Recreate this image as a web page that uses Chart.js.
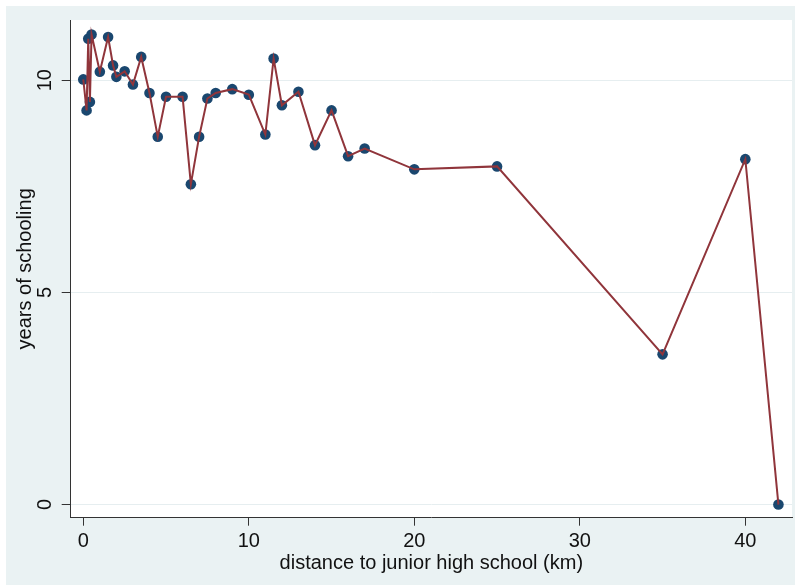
<!DOCTYPE html>
<html>
<head>
<meta charset="utf-8">
<script src="https://cdn.jsdelivr.net/npm/chart.js@4.4.1/dist/chart.umd.min.js"></script>
<style>
  html,body{margin:0;padding:0;background:#fff}
  #wrap{width:795px;height:585px}
</style>
</head>
<body>
<div id="wrap"><canvas id="c" width="795" height="585"></canvas></div>
<script>
// distance (km) vs mean years of schooling
const distance = [0, 0.2, 0.3, 0.4, 0.5, 1, 1.5, 1.8, 2, 2.5, 3, 3.5, 4, 4.5, 5, 6, 6.5, 7, 7.5, 8, 9, 10, 11, 11.5, 12, 13, 14, 15, 16, 17, 20, 25, 35, 40, 42];
const schooling = [10.02, 9.29, 10.98, 9.49, 11.08, 10.2, 11.02, 10.35, 10.08, 10.21, 9.9, 10.55, 9.7, 8.67, 9.61, 9.61, 7.55, 8.67, 9.57, 9.7, 9.79, 9.66, 8.72, 10.51, 9.41, 9.73, 8.47, 9.29, 8.21, 8.39, 7.9, 7.97, 3.54, 8.14, 0];
const xTicks = [0, 10, 20, 30, 40];
const yTicks = [0, 5, 10];

(function(){
  const ink = '#111', navy = '#1a476f', maroon = '#90353b';
  const outer = '#eaf2f3', grid = '#e6eef0';
  const font = { family: "'Liberation Sans', Arial, Helvetica, sans-serif", size: 20 };
  Chart.defaults.font.family = font.family;
  Chart.defaults.color = ink;

  const pts = distance.map((d, i) => ({ x: d, y: schooling[i] }));

  // stata-ish backgrounds: outer light bluish gray, white plot region
  const bg = {
    id: 'bg',
    beforeDraw(chart){
      const { ctx, width, height, chartArea: a } = chart;
      ctx.save();
      ctx.fillStyle = '#fff'; ctx.fillRect(0, 0, width, height);
      ctx.fillStyle = outer; ctx.fillRect(6, 6, width - 6, height - 6);
      ctx.fillStyle = '#fff'; ctx.fillRect(a.left, a.top, a.right - a.left, a.bottom - a.top);
      ctx.restore();
    }
  };

  new Chart(document.getElementById('c'), {
    type: 'line',
    data: {
      datasets: [
        { label: 'line', data: pts, order: 0, borderColor: maroon, borderWidth: 2,
          pointRadius: 0, pointHoverRadius: 0, fill: false, tension: 0 },
        { label: 'pts', type: 'scatter', data: pts, order: 1, showLine: false,
          pointRadius: 5.3, pointBackgroundColor: navy, pointBorderWidth: 0, pointHoverRadius: 5.3 }
      ]
    },
    options: {
      responsive: false, animation: false, devicePixelRatio: 1,
      layout: { autoPadding: false, padding: { left: 0, top: 20, right: 3, bottom: 0 } },
      plugins: { legend: { display: false }, tooltip: { enabled: false } },
      scales: {
        x: {
          type: 'linear', min: -0.76, max: 42.82,
          afterBuildTicks: s => { s.ticks = xTicks.map(v => ({ value: v })); },
          afterFit: s => { s.height = 67.3; },
          grid: { drawOnChartArea: false, tickLength: 8, tickColor: '#333', tickWidth: 1 },
          border: { color: '#333', width: 1 },
          ticks: { font, color: ink, padding: 4, maxRotation: 0 },
          title: { display: true, text: 'distance to junior high school (km)', font, color: ink,
                   padding: { top: 0, bottom: 10 } }
        },
        y: {
          type: 'linear', min: -0.31, max: 11.42,
          afterBuildTicks: s => { s.ticks = yTicks.map(v => ({ value: v })); },
          afterFit: s => { s.width = 70.7; },
          grid: { color: grid, lineWidth: 1, tickLength: 9, tickColor: '#333', tickWidth: 1 },
          border: { color: '#333', width: 1 },
          ticks: { font, color: ink, padding: 4.6, minRotation: 90, maxRotation: 90, crossAlign: 'center' },
          title: { display: true, text: 'years of schooling', font, color: ink,
                   padding: { top: 13, bottom: 0 } }
        }
      }
    },
    plugins: [bg]
  });
})();
</script>
</body>
</html>
